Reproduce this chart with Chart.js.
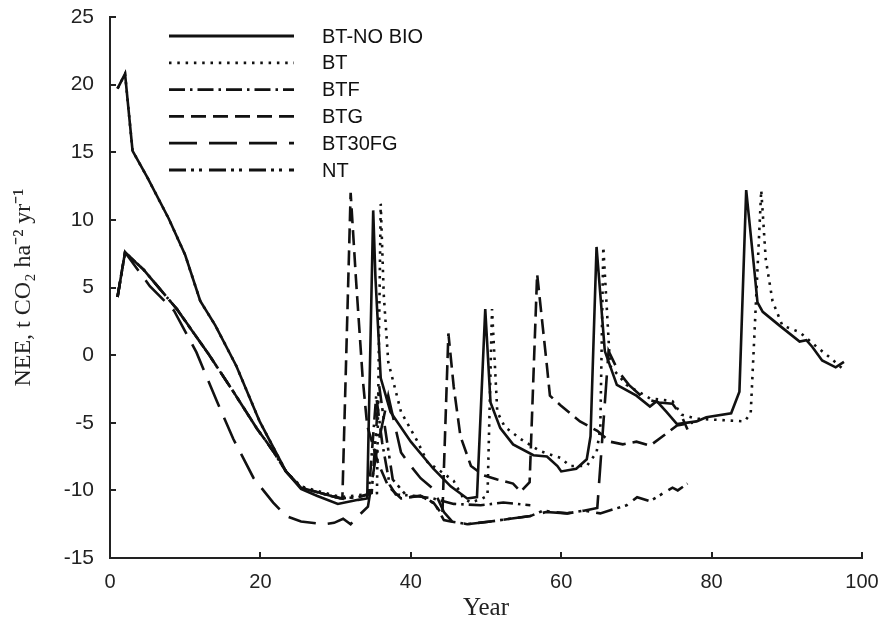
<!DOCTYPE html>
<html lang="en">
<head>
    <meta charset="UTF-8">
    <title>NEE</title>
    <script src="https://cdn.jsdelivr.net/npm/chart.js@4"></script>
    <style>
        html, body { margin: 0; padding: 0; background: #fff; }
        canvas { display: block; }
    </style>
</head>
<body>
    <canvas id="chart" width="879" height="626"></canvas>

    <script>
        // values (year, NEE)
        const btNoBioYears = [1, 2, 3, 5, 7.8, 10, 12, 14, 16.8, 19.9, 23.4, 25.4, 27.5, 30.3, 33, 34.2, 35, 35.3, 36, 37.3, 40, 43, 45.3, 47.5, 48.8, 49.9, 50.6, 51.9, 53.6, 56.3, 58.1, 59.5, 60, 62, 63.4, 63.9, 64.7, 65.8, 67.4, 70, 71.8, 72.7, 74, 75.4, 78, 79.3, 82.6, 83.7, 84.6, 85.7, 86.1, 86.8, 89, 91.7, 92.6, 93.4, 94.7, 96.5, 97.6];
        const btNoBioValues = [19.7, 20.8, 15.1, 13.1, 10.1, 7.4, 4.0, 2.2, -0.8, -4.9, -8.6, -9.9, -10.4, -11.0, -10.7, -10.6, 10.7, 5.7, -1.7, -4.2, -6.4, -8.4, -9.7, -10.6, -10.5, 3.4, -3.5, -5.4, -6.6, -7.4, -7.5, -8.2, -8.6, -8.4, -7.7, -6.0, 8.0, 0.3, -2.2, -3.0, -3.8, -3.4, -4.2, -5.1, -4.9, -4.6, -4.3, -2.7, 12.2, 6.2, 3.9, 3.2, 2.2, 1.0, 1.1, 0.6, -0.4, -0.9, -0.5];

        const btYears = [1, 2, 3, 5, 7.8, 10, 12, 14, 16.8, 19.9, 23.4, 25.4, 28, 30.7, 33.8, 35.5, 36, 36.4, 37, 38.7, 40.9, 42.2, 44, 45.7, 47, 48, 49.5, 50.2, 50.8, 51.5, 52.5, 54.6, 57.2, 59.9, 61.2, 63.4, 64.7, 65.2, 65.6, 66.5, 68.7, 71.8, 74.8, 76, 78, 84.4, 85.2, 86.6, 87.2, 88.1, 89.4, 91.7, 94, 96, 97.4];
        const btValues = [19.7, 20.8, 15.1, 13.1, 10.1, 7.4, 4.0, 2.2, -0.8, -4.9, -8.6, -9.7, -10.1, -10.5, -10.3, -10.2, 11.2, 4.5, -0.5, -4.2, -6.4, -7.9, -8.6, -9.3, -10.6, -10.9, -10.6, -10.4, 3.4, -4.2, -5.3, -6.2, -7.1, -7.6, -8.2, -8.2, -7.2, -5.4, 8.0, -0.8, -2.2, -3.2, -3.4, -4.4, -4.7, -4.9, -4.3, 12.2, 7.1, 4.0, 2.2, 1.7, 0.6, -0.3, -1.0];

        const btfYears = [1, 2, 4.5, 8.9, 13.2, 16.4, 19.5, 21.7, 23.4, 25.4, 28, 30.6, 33, 34.4, 35.4, 36.2, 37.2, 38, 40.4, 43, 45.7, 49.3, 52.3, 55.9];
        const btfValues = [4.3, 7.6, 6.3, 3.4, 0.0, -2.7, -5.4, -7.1, -8.6, -9.8, -10.2, -10.6, -10.5, -10.3, -3.0, -6.5, -9.6, -10.3, -10.4, -10.6, -11.0, -11.1, -10.9, -11.1];

        const btgYears = [1, 2, 4.5, 8.9, 13.2, 16.4, 19.5, 21.7, 23.4, 25.4, 28, 30.9, 32, 32.7, 33.6, 34.2, 35.6, 37, 38.7, 41.3, 43, 44.2, 45, 45.7, 46.6, 48, 49.7, 51.5, 53.6, 54.6, 55.8, 56.8, 58.1, 58.5, 59.9, 62.5, 64.8, 66.5, 68.2, 70, 71.8, 73.5, 75.4, 77.5];
        const btgValues = [4.3, 7.6, 6.3, 3.4, 0.0, -2.7, -5.4, -7.1, -8.6, -9.8, -10.2, -10.6, 12.0, 5.7, -1.7, -5.2, -7.9, -9.7, -10.6, -10.4, -10.9, -11.8, 1.6, -2.3, -6.0, -8.2, -8.9, -9.2, -9.5, -10.1, -9.4, 6.0, -0.8, -3.0, -3.7, -4.9, -5.6, -6.4, -6.6, -6.4, -6.7, -6.0, -5.2, -5.0];

        const bt30fgYears = [1, 2, 5.3, 8.5, 11.5, 14.2, 16.4, 19.1, 21.7, 23.4, 25.4, 28.5, 29.8, 31, 32, 33.2, 34.3, 35.5, 37, 38.7, 40, 41.3, 43, 44.4, 45.5, 47.5, 50.6, 53.2, 55.9, 58, 60.8, 63, 64.8, 66.3, 67.6, 69, 71, 73, 74.8, 76, 76.8];
        const bt30fgValues = [4.3, 7.6, 5.1, 3.3, 0.2, -3.4, -6.2, -9.1, -10.9, -11.9, -12.3, -12.5, -12.4, -12.1, -12.5, -11.8, -11.2, -7.0, -3.0, -7.2, -8.2, -9.1, -9.9, -11.6, -12.3, -12.5, -12.3, -12.1, -11.9, -11.6, -11.7, -11.5, -11.3, 0.3, -1.2, -2.2, -3.2, -3.5, -3.6, -4.5, -5.5];

        const ntYears = [1, 2, 4.5, 8.9, 13.2, 16.4, 19.5, 21.7, 23.4, 25.4, 28, 30.6, 33, 34.8, 35.8, 36.6, 37.6, 39.6, 41.3, 43.2, 44.4, 45.3, 47.5, 50.6, 53.2, 55.9, 57.6, 59, 60.8, 63, 65.2, 68.7, 70.1, 71.8, 74.8, 75.5, 76.8];
        const ntValues = [4.3, 7.6, 6.3, 3.4, 0.0, -2.7, -5.4, -7.1, -8.6, -9.8, -10.2, -10.6, -10.5, -10.2, -2.3, -5.5, -9.2, -10.5, -10.4, -11.0, -12.2, -12.3, -12.5, -12.3, -12.1, -11.9, -11.5, -11.6, -11.7, -11.5, -11.7, -11.1, -10.5, -10.8, -9.8, -10.0, -9.5];

        const seriesNames = ['BT-NO BIO', 'BT', 'BTF', 'BTG', 'BT30FG', 'NT'];
        const xTicks = [0, 20, 40, 60, 80, 100];
        const yTicks = [-15, -10, -5, 0, 5, 10, 15, 20, 25];

        const ink = '#111';
        const axisInk = '#222';
        const dashes = [[], [2.5, 5.8], [16, 5, 2.5, 5], [15, 7], [28, 12], [17, 5, 3, 5, 3, 7]];

        function toPoints(years, values) {
            return years.map((x, i) => ({ x: x, y: values[i] }));
        }

        const allSeries = [
            toPoints(btNoBioYears, btNoBioValues),
            toPoints(btYears, btValues),
            toPoints(btfYears, btfValues),
            toPoints(btgYears, btgValues),
            toPoints(bt30fgYears, bt30fgValues),
            toPoints(ntYears, ntValues)
        ];

        // short tick marks pointing into the plot, like the original figure
        const innerTicks = {
            id: 'innerTicks',
            afterDraw(chart) {
                const ctx = chart.ctx;
                const area = chart.chartArea;
                const xs = chart.scales.x, ys = chart.scales.y;
                ctx.save();
                ctx.strokeStyle = axisInk;
                ctx.lineWidth = 2;
                ctx.beginPath();
                xTicks.forEach(v => {
                    const px = Math.round(xs.getPixelForValue(v));
                    ctx.moveTo(px, area.bottom);
                    ctx.lineTo(px, area.bottom - 6);
                });
                yTicks.forEach(v => {
                    const py = Math.round(ys.getPixelForValue(v));
                    ctx.moveTo(area.left, py);
                    ctx.lineTo(area.left + 6, py);
                });
                ctx.stroke();
                ctx.restore();
            }
        };

        // legend drawn inside the plot as one column of line samples
        const lineLegend = {
            id: 'lineLegend',
            afterDraw(chart) {
                const ctx = chart.ctx;
                const area = chart.chartArea;
                ctx.save();
                chart.data.datasets.forEach((ds, i) => {
                    const y = area.top + 19 + i * 26.8;
                    ctx.strokeStyle = ds.borderColor;
                    ctx.lineWidth = 2.8;
                    ctx.setLineDash(ds.borderDash);
                    ctx.beginPath();
                    ctx.moveTo(area.left + 59, y);
                    ctx.lineTo(area.left + 184, y);
                    ctx.stroke();
                    ctx.setLineDash([]);
                    ctx.fillStyle = ink;
                    ctx.font = '20px "Liberation Sans", Arial, sans-serif';
                    ctx.textBaseline = 'middle';
                    ctx.fillText(ds.label, area.left + 212, y + 1);
                });
                ctx.restore();
            }
        };

        const ctx = document.getElementById('chart').getContext('2d');
        new Chart(ctx, {
            type: 'line',
            data: {
                datasets: allSeries.map((pts, i) => ({
                    label: seriesNames[i],
                    data: pts,
                    borderColor: ink,
                    borderWidth: 2.6,
                    borderDash: dashes[i],
                    borderCapStyle: 'butt',
                    pointRadius: 0,
                    tension: 0,
                    fill: false
                }))
            },
            options: {
                responsive: false,
                animation: false,
                devicePixelRatio: 1,
                layout: { padding: { left: 8, top: 0, right: 0, bottom: 0 } },
                scales: {
                    x: {
                        type: 'linear',
                        min: xTicks[0],
                        max: xTicks[xTicks.length - 1],
                        afterBuildTicks: s => { s.ticks = xTicks.map(v => ({ value: v })); },
                        afterFit: s => { s.height = 68; s.paddingLeft = 0; s.paddingRight = 17; },
                        border: { display: true, color: axisInk, width: 2 },
                        grid: { drawOnChartArea: false, drawTicks: false },
                        ticks: { color: axisInk, padding: 12, maxRotation: 0, font: { family: '"Liberation Sans", Arial, sans-serif', size: 20 } },
                        title: {
                            display: true,
                            text: 'Year',
                            color: axisInk,
                            padding: { top: 0, bottom: 3 },
                            font: { family: '"Liberation Serif", "Times New Roman", serif', size: 25 }
                        }
                    },
                    y: {
                        min: yTicks[0],
                        max: yTicks[yTicks.length - 1],
                        afterBuildTicks: s => { s.ticks = yTicks.map(v => ({ value: v })); },
                        afterFit: s => { s.width = 102; s.paddingTop = 17; s.paddingBottom = 0; },
                        border: { display: true, color: axisInk, width: 2 },
                        grid: { drawOnChartArea: false, drawTicks: false },
                        ticks: { color: axisInk, padding: 16, font: { family: '"Liberation Sans", Arial, sans-serif', size: 21 } },
                        title: {
                            display: true,
                            text: 'NEE, t CO₂ ha⁻² yr⁻¹',
                            color: axisInk,
                            padding: { top: 1, bottom: 0 },
                            font: { family: '"Liberation Serif", "Times New Roman", serif', size: 24 }
                        }
                    }
                },
                plugins: {
                    legend: { display: false },
                    tooltip: { enabled: false }
                }
            },
            plugins: [innerTicks, lineLegend]
        });
    </script>
</body>
</html>
